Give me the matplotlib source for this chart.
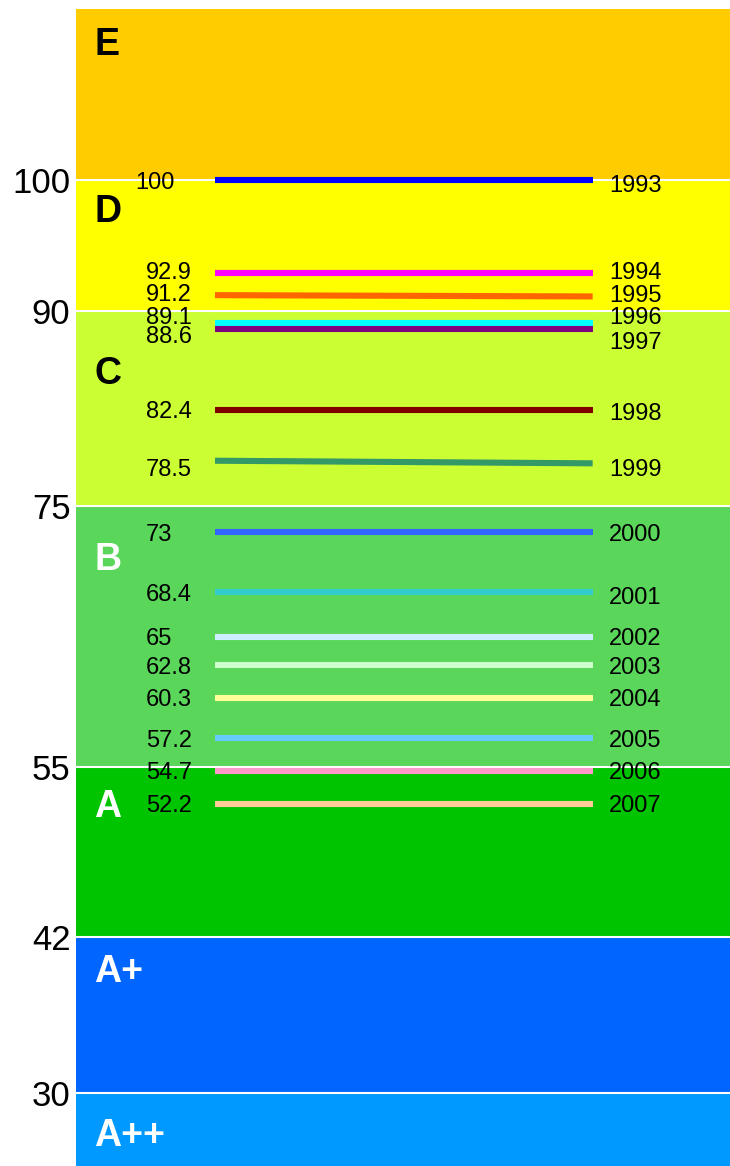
import matplotlib
matplotlib.use('Agg')
import matplotlib.pyplot as plt

plt.rcParams['font.family'] = ['Liberation Sans', 'DejaVu Sans']

# bands (energy classes)
band_names = ['A++', 'A+', 'A', 'B', 'C', 'D', 'E']
band_lower = [24.4, 30, 42, 55, 75, 90, 100]
band_upper = [30, 42, 55, 75, 90, 100, 113.15]
band_colors = ['#0099ff', '#0066ff', '#00c400', '#5ad65a', '#ccff33', '#ffff00', '#ffcc00']
band_text_colors = ['white', 'white', 'white', 'white', 'black', 'black', 'black']
# baseline of the class letter inside each band
band_text_y = [25.93, 38.51, 51.18, 70.13, 84.41, 96.84, 109.62]

# index per year
years = ['1993', '1994', '1995', '1996', '1997', '1998', '1999', '2000',
         '2001', '2002', '2003', '2004', '2005', '2006', '2007']
values = [100, 92.9, 91.2, 89.1, 88.6, 82.4, 78.5, 73, 68.4, 65, 62.8, 60.3, 57.2, 54.7, 52.2]
values_end = [100, 92.9, 91.1, 89.1, 88.6, 82.4, 78.3, 73, 68.4, 65, 62.8, 60.3, 57.2, 54.7, 52.2]
line_colors = ['#0000ff', '#ff00ff', '#ff6600', '#00ffff', '#800080', '#800000', '#339966',
               '#3366ff', '#33cccc', '#cceeff', '#ccffcc', '#ffff99', '#66ccff', '#ff99cc', '#ffcc99']

yticks = [30, 42, 55, 75, 90, 100]

W, H = 730, 1166
fig = plt.figure(figsize=(W / 100, H / 100), dpi=100)
ax = fig.add_axes([76 / W, 0, 654 / W, (H - 9) / H])
ax.set_xlim(0, 1)
ax.set_ylim(band_lower[0], band_upper[-1])

# bands
for name, lo, hi, col, tcol, ty in zip(band_names, band_lower, band_upper,
                                        band_colors, band_text_colors, band_text_y):
    ax.axhspan(lo, hi, color=col, lw=0, zorder=0)
    ax.text(0.028, ty, name, fontsize=27, fontweight='bold', color=tcol,
            va='baseline', ha='left', zorder=3)
for b in band_lower[1:]:
    ax.axhline(b, color='white', lw=1.5, zorder=1)

# lines + labels (label shifts in pixels, to untangle close lines)
x0, x1 = 0.2125, 0.79
left_shift = {'1994': -2, '1995': -3, '1996': -7, '1997': 5, '1999': 7}
right_shift = {'1993': 3, '1994': -2, '1995': -3, '1996': -7, '1997': 11,
               '1998': 2, '1999': 4, '2001': 3}
half = 8.5
for yr, v, ve, c in zip(years, values, values_end, line_colors):
    ax.plot([x0, x1], [v, ve], color=c, lw=4.4, solid_capstyle='butt', zorder=2)
    lx = 0.09 if v >= 100 else 0.107
    ax.annotate(f'{v:g}', (lx, v), xytext=(0, -left_shift.get(yr, 0) - half),
                textcoords='offset pixels', fontsize=17, va='baseline', ha='left', zorder=3)
    ax.annotate(yr, (0.815, ve), xytext=(0, -right_shift.get(yr, 0) - half),
                textcoords='offset pixels', fontsize=17, va='baseline', ha='left', zorder=3)

ax.set_xticks([])
ax.set_yticks(yticks)
ax.set_yticklabels([str(t) for t in yticks], fontsize=25)
ax.tick_params(axis='y', length=0, pad=4)
for s in ax.spines.values():
    s.set_visible(False)

fig.savefig('out.png', dpi=100)
